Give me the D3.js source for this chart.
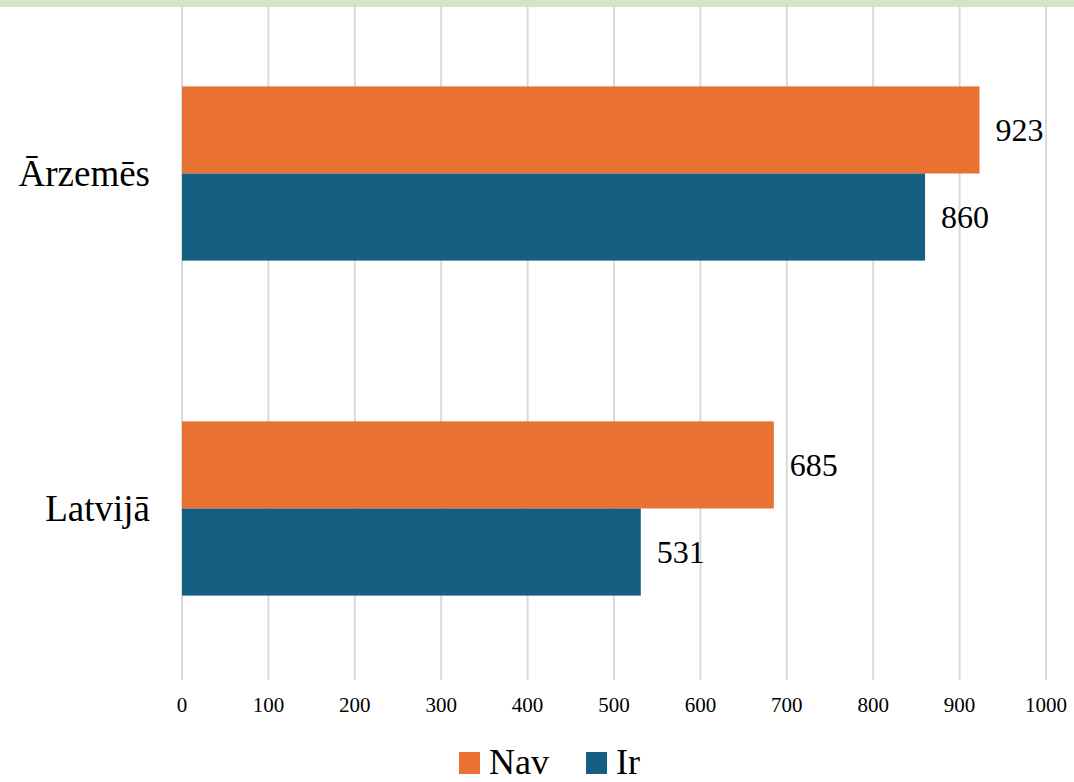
<!DOCTYPE html>
<html lang="lv">
<head>
<meta charset="UTF-8">
<script src="https://cdn.jsdelivr.net/npm/d3@7"></script>
<style>
  body { margin: 0; background: #fff; overflow: hidden; }
  text { font-family: "Liberation Serif", "Times New Roman", serif; fill: #000; }
</style>
</head>
<body>
<script>
const categories = ["Ārzemēs", "Latvijā"];
const seriesNames = ["Nav", "Ir"];
const seriesColors = ["#e97132", "#156082"];
const navValues = [923, 685];
const irValues = [860, 531];
const xTicks = [0, 100, 200, 300, 400, 500, 600, 700, 800, 900, 1000];

const W = 1074, H = 782;
const svg = d3.select("body").append("svg").attr("width", W).attr("height", H);

// green band at the top
svg.append("rect").attr("x", 0).attr("y", 0).attr("width", W).attr("height", 7).attr("fill", "#d4e5c6");

const x = d3.scaleLinear().domain([0, 1000]).range([182, 1046]);
const y = d3.scaleBand().domain(categories).range([6, 676]).paddingInner(0.48).paddingOuter(0.24);
const ySub = d3.scaleBand().domain(seriesNames).range([0, y.bandwidth()]);

// gridlines
svg.append("g").selectAll("line").data(xTicks).enter().append("line")
  .attr("x1", d => x(d)).attr("x2", d => x(d))
  .attr("y1", 5).attr("y2", 680)
  .attr("stroke", "#d9d9d9").attr("stroke-width", 2);

// tick labels
svg.append("g").selectAll("text").data(xTicks).enter().append("text")
  .attr("x", d => x(d)).attr("y", 712)
  .attr("text-anchor", "middle").attr("font-size", 21)
  .text(d => d);

// category labels
svg.append("g").selectAll("text").data(categories).enter().append("text")
  .attr("x", 150).attr("y", d => y(d) + y.bandwidth() / 2)
  .attr("dy", "0.35em").attr("text-anchor", "end").attr("font-size", 37)
  .text(d => d);

const rows = [];
categories.forEach((c, i) => {
  rows.push({ cat: c, s: "Nav", v: navValues[i], color: seriesColors[0] });
  rows.push({ cat: c, s: "Ir", v: irValues[i], color: seriesColors[1] });
});

svg.append("g").selectAll("rect").data(rows).enter().append("rect")
  .attr("x", x(0)).attr("y", d => y(d.cat) + ySub(d.s))
  .attr("width", d => x(d.v) - x(0)).attr("height", ySub.bandwidth())
  .attr("fill", d => d.color);

svg.append("g").selectAll("text").data(rows).enter().append("text")
  .attr("x", d => x(d.v) + 16).attr("y", d => y(d.cat) + ySub(d.s) + ySub.bandwidth() / 2)
  .attr("dy", "0.35em").attr("font-size", 32)
  .text(d => d.v);

// legend
const legend = svg.append("g");
const legendX = [459, 586];
seriesNames.forEach((s, i) => {
  legend.append("rect").attr("x", legendX[i]).attr("y", 752).attr("width", 21).attr("height", 22)
    .attr("fill", seriesColors[i]);
  legend.append("text").attr("x", legendX[i] + 30).attr("y", 774)
    .attr("font-size", 36).text(s);
});
</script>
</body>
</html>
